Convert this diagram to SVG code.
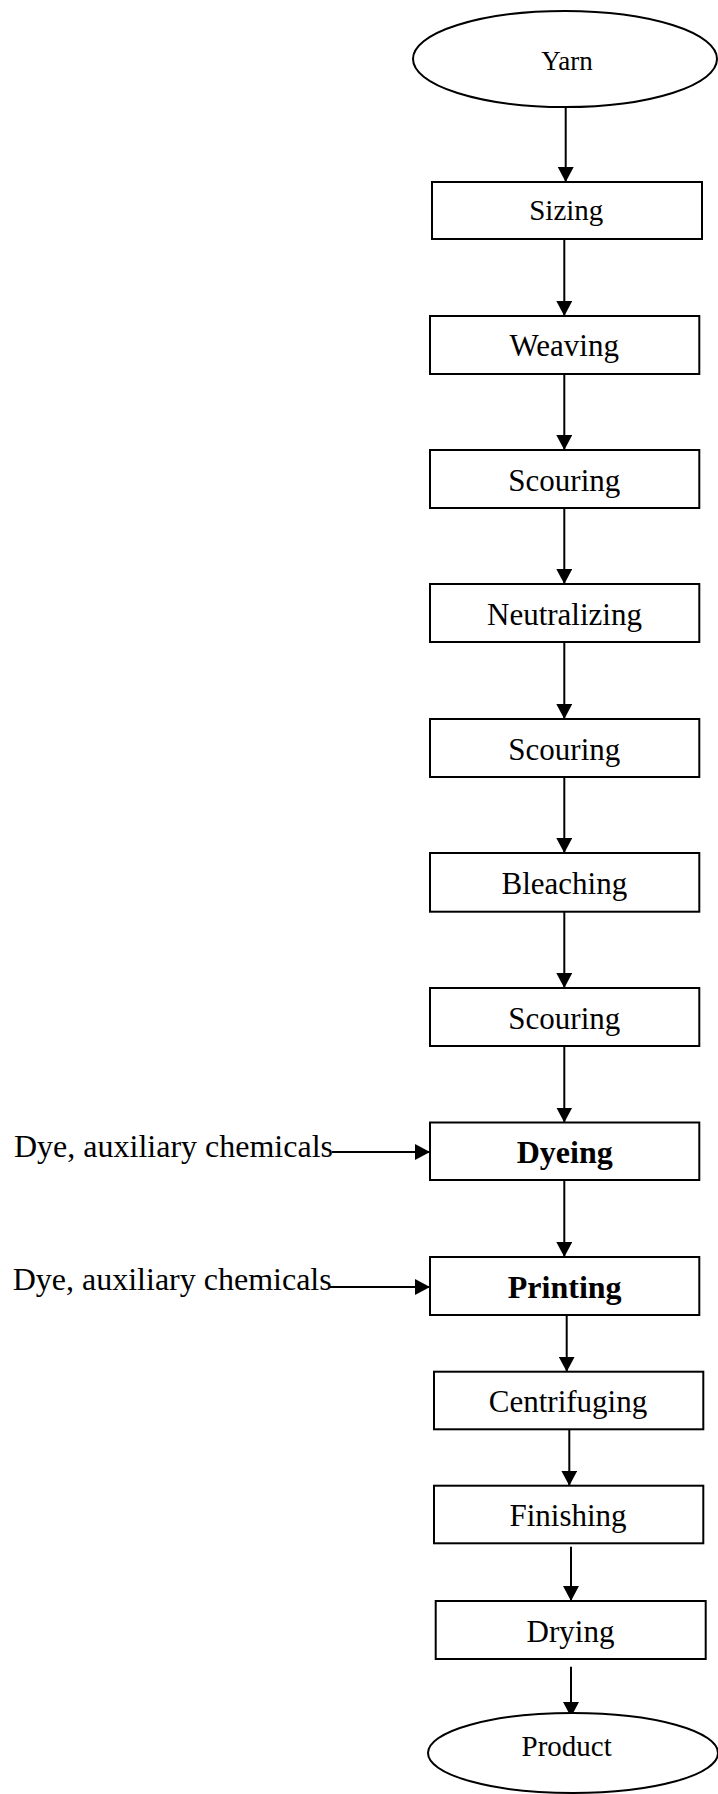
<svg xmlns="http://www.w3.org/2000/svg" width="718" height="1794" viewBox="0 0 718 1794">
<style>
.box{fill:#fff;stroke:#000;stroke-width:2}
.ell{fill:#fff;stroke:#000;stroke-width:2}
.t{font-family:"Liberation Serif","Times New Roman",serif;font-size:31px;fill:#000;text-anchor:middle}
.b{font-weight:bold;font-size:32px}
.l{font-family:"Liberation Serif","Times New Roman",serif;font-size:32px;fill:#000}
.c{stroke:#000;stroke-width:2;fill:none;marker-end:url(#ah)}
</style>
<defs>
<marker id="ah" markerUnits="userSpaceOnUse" markerWidth="16" markerHeight="16" refX="15" refY="8" orient="auto" viewBox="0 0 16 16">
<path d="M0,0 L15,8 L0,16 z" fill="#000"/>
</marker>
</defs>
<g id="connectors">
<line class="c" x1="565.7" y1="107" x2="565.7" y2="182"/>
<line class="c" x1="564.3" y1="239" x2="564.3" y2="316"/>
<line class="c" x1="564.3" y1="374" x2="564.3" y2="450"/>
<line class="c" x1="564.3" y1="508" x2="564.3" y2="584"/>
<line class="c" x1="564.3" y1="642" x2="564.3" y2="719"/>
<line class="c" x1="564.3" y1="777" x2="564.3" y2="853"/>
<line class="c" x1="564.3" y1="911.7" x2="564.3" y2="988"/>
<line class="c" x1="564.3" y1="1046" x2="564.3" y2="1122.5"/>
<line class="c" x1="564.3" y1="1180" x2="564.3" y2="1257"/>
<line class="c" x1="566.7" y1="1315" x2="566.7" y2="1371.7"/>
<line class="c" x1="569.3" y1="1429.3" x2="569.3" y2="1485.7"/>
<line class="c" x1="571" y1="1546.7" x2="571" y2="1601"/>
<line class="c" x1="571" y1="1666.7" x2="571" y2="1717"/>
<line class="c" x1="332" y1="1152" x2="430" y2="1152"/>
<line class="c" x1="330" y1="1287" x2="430" y2="1287"/>
</g>
<g id="yarn"><ellipse class="ell" cx="565" cy="59" rx="152" ry="48"/><text class="t" x="567" y="70" style="font-size:27px">Yarn</text></g>
<g id="sizing"><rect class="box" x="432" y="182" width="270" height="57"/><text class="t" x="566.3" y="220" style="font-size:29px">Sizing</text></g>
<g id="weaving"><rect class="box" x="430" y="316" width="269.3" height="58"/><text class="t" x="564.3" y="356">Weaving</text></g>
<g id="scouring1"><rect class="box" x="430" y="450" width="269.3" height="58"/><text class="t" x="564.3" y="490.7">Scouring</text></g>
<g id="neutralizing"><rect class="box" x="430" y="584" width="269.3" height="58"/><text class="t" x="564.5" y="625">Neutralizing</text></g>
<g id="scouring2"><rect class="box" x="430" y="719" width="269.3" height="58"/><text class="t" x="564.3" y="759.5">Scouring</text></g>
<g id="bleaching"><rect class="box" x="430" y="853" width="269.3" height="58.7"/><text class="t" x="564.3" y="893.5">Bleaching</text></g>
<g id="scouring3"><rect class="box" x="430" y="988" width="269.3" height="58"/><text class="t" x="564.3" y="1029.3">Scouring</text></g>
<g id="dyeing"><rect class="box" x="430" y="1122.5" width="269.3" height="57.5"/><text class="t b" x="564.7" y="1162.7">Dyeing</text></g>
<g id="printing"><rect class="box" x="430" y="1257" width="269.3" height="58"/><text class="t b" x="564.7" y="1297.7">Printing</text></g>
<g id="centrifuging"><rect class="box" x="434" y="1371.7" width="269.3" height="57.6"/><text class="t" x="568" y="1411.7">Centrifuging</text></g>
<g id="finishing"><rect class="box" x="434" y="1485.7" width="269.3" height="57.6"/><text class="t" x="568" y="1525.7">Finishing</text></g>
<g id="drying"><rect class="box" x="435.7" y="1601" width="270" height="58"/><text class="t" x="570.5" y="1641.7">Drying</text></g>
<g id="product"><ellipse class="ell" cx="573" cy="1753" rx="145" ry="40"/><text class="t" x="566.7" y="1755.7" style="font-size:29px">Product</text></g>
<g id="input-dyeing"><text class="l" x="14" y="1157">Dye, auxiliary chemicals</text></g>
<g id="input-printing"><text class="l" x="12.7" y="1290">Dye, auxiliary chemicals</text></g>
</svg>
